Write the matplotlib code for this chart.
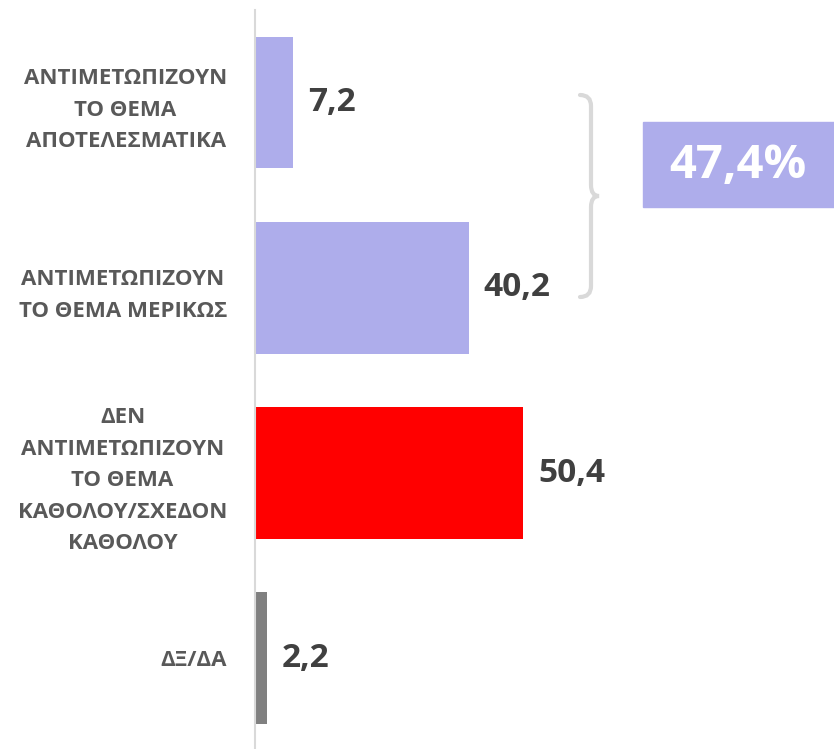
import matplotlib.pyplot as plt
from matplotlib.path import Path
from matplotlib.patches import PathPatch, Rectangle

plt.rcParams['font.family'] = ['Open Sans', 'DejaVu Sans']

# -------- data --------
categories = [
    "ΑΝΤΙΜΕΤΩΠΙΖΟΥΝ\nΤΟ ΘΕΜΑ\nΑΠΟΤΕΛΕΣΜΑΤΙΚΑ",
    "ΑΝΤΙΜΕΤΩΠΙΖΟΥΝ\nΤΟ ΘΕΜΑ ΜΕΡΙΚΩΣ",
    "ΔΕΝ\nΑΝΤΙΜΕΤΩΠΙΖΟΥΝ\nΤΟ ΘΕΜΑ\nΚΑΘΟΛΟΥ/ΣΧΕΔΟΝ\nΚΑΘΟΛΟΥ",
    "ΔΞ/ΔΑ",
]
values = [7.2, 40.2, 50.4, 2.2]
colors = ["#aeadeb", "#aeadeb", "#ff0000", "#808080"]
total_label = "47,4%"

W, H = 834, 749
fig = plt.figure(figsize=(W / 100, H / 100), dpi=100)
ax = fig.add_axes([255 / W, 0, 1 - 255 / W, 1 - 10 / H])

y = list(range(len(values)))
ax.barh(y, values, height=0.71, color=colors)
ax.set_xlim(0, (W - 255) / 5.32)
ax.set_ylim(3.49, -0.5)

for yi, v in zip(y, values):
    ax.text(v + 2.8, yi, f"{v:.1f}".replace(".", ","), va="center", ha="left",
            fontsize=24, fontweight="bold", color="#404040")

ax.set_yticks(y)
ax.set_yticklabels(categories, fontsize=16, fontweight="bold", color="#595959")
for lbl in ax.get_yticklabels():
    lbl.set_multialignment("center")
    lbl.set_linespacing(1.65)
ax.tick_params(axis="y", length=0, pad=20)
ax.set_xticks([])
for s in ["top", "right", "bottom"]:
    ax.spines[s].set_visible(False)
ax.spines["left"].set_color("#d9d9d9")
ax.spines["left"].set_linewidth(1.5)


# brace, in pixel coords of the picture (y down)
def fx(x):
    return x / W


def fy(yy):
    return 1 - yy / H


pts = [(580, 95), (591, 95), (591, 106), (591, 106),
       (591, 185), (591, 185), (591, 196), (599, 196),
       (591, 196), (591, 207), (591, 207),
       (591, 286), (591, 286), (591, 297), (580, 297)]
codes = [Path.MOVETO, Path.CURVE3, Path.CURVE3, Path.LINETO,
         Path.LINETO, Path.LINETO, Path.CURVE3, Path.CURVE3,
         Path.CURVE3, Path.CURVE3, Path.LINETO,
         Path.LINETO, Path.LINETO, Path.CURVE3, Path.CURVE3]
path = Path([(fx(a), fy(b)) for a, b in pts], codes)
fig.patches.append(PathPatch(path, transform=fig.transFigure, fill=False,
                             edgecolor="#d9d9d9", lw=3, capstyle="round"))

# total box
fig.patches.append(Rectangle((fx(643), fy(207)), fx(834) - fx(643), fy(122) - fy(207),
                             transform=fig.transFigure, color="#aeadeb"))
fig.text(fx(738), fy(165), total_label, ha="center", va="center",
         fontsize=34, fontweight="bold", color="white")

fig.savefig("out.png", dpi=100)
